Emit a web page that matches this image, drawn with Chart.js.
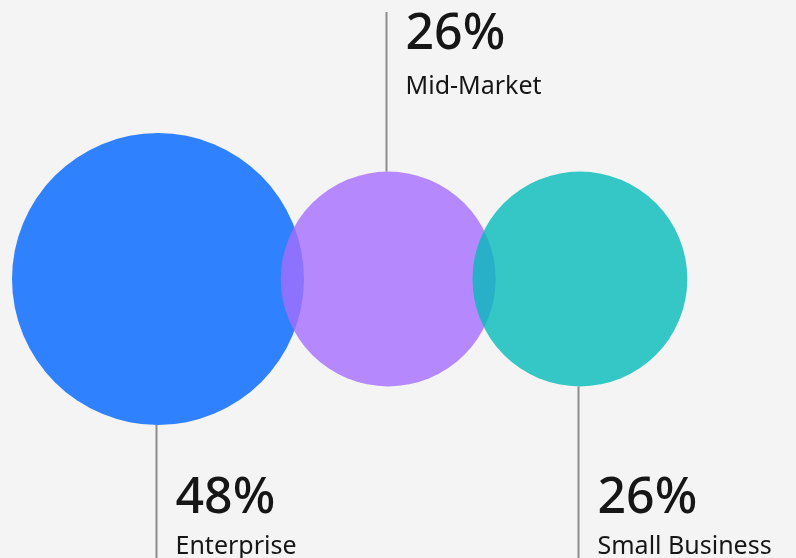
<!DOCTYPE html>
<html>
<head>
<meta charset="utf-8">
<script src="https://cdn.jsdelivr.net/npm/chart.js@4.4.0/dist/chart.umd.min.js"></script>
<style>
    html, body { margin: 0; padding: 0; background: #f4f4f4; }
    #wrap { width: 796px; height: 558px; }
</style>
</head>
<body>
<div id="wrap"><canvas id="chart" width="796" height="558"></canvas></div>
<script>
const segments = ['Enterprise', 'Mid-Market', 'Small Business'];
const shares = [48, 26, 26];

const colors = ['rgba(10, 106, 255, 0.84)', 'rgba(165, 110, 255, 0.8)', 'rgba(5, 186, 186, 0.8)'];
const overlap = 1.1;   // how far neighbouring circles run into each other (in sqrt-units)
const xMin = -0.57;
const xMax = 37.21;

// circle sizes are area proportional, centres are chained along one row
const sizes = shares.map(v => Math.sqrt(v));
const centres = [];
sizes.forEach((s, i) => {
    centres.push(i === 0 ? s : centres[i - 1] + sizes[i - 1] + s - overlap);
});

// chart area is the whole canvas (no padding, hidden axes, no auto padding)
const pxPerUnit = (chart) => chart.width / (xMax - xMin);

const calloutPlugin = {
    id: 'callouts',
    afterDatasetsDraw(chart) {
        const ctx = chart.ctx;
        const meta = chart.getDatasetMeta(0);
        meta.data.forEach((pt, i) => {
            const r = pt.options.radius;
            const up = i % 2 === 1;
            const lx = Math.round(pt.x) - 1.5;
            let y0, y1, bigY, nameY;
            if (up) {
                y0 = pt.y - r;
                y1 = 12;
                bigY = y1 + 37;
                nameY = y1 + 82;
            } else {
                // bottom callouts share one text row near the bottom edge
                y0 = pt.y + r;
                y1 = chart.height;
                bigY = y1 - 45;
                nameY = y1 - 4;
            }
            ctx.save();
            ctx.strokeStyle = '#8d8d8d';
            ctx.lineWidth = 2;
            ctx.beginPath();
            ctx.moveTo(lx, y0);
            ctx.lineTo(lx, y1);
            ctx.stroke();

            ctx.fillStyle = '#161616';
            ctx.textAlign = 'left';
            ctx.textBaseline = 'alphabetic';
            ctx.font = '500 50px "Noto Sans"';
            ctx.fillText(shares[i] + '%', lx + 19, bigY);
            ctx.font = '25px "Noto Sans"';
            ctx.fillText(segments[i], lx + 19, nameY);
            ctx.restore();
        });
    }
};

new Chart(document.getElementById('chart'), {
    type: 'bubble',
    data: {
        labels: segments,
        datasets: [{
            data: centres.map(c => ({ x: c, y: 0 })),
            backgroundColor: colors,
            borderWidth: 0,
            clip: false,
            radius: (ctx) => sizes[ctx.dataIndex] * pxPerUnit(ctx.chart)
        }]
    },
    options: {
        responsive: false,
        animation: false,
        layout: { padding: 0, autoPadding: false },
        events: [],
        plugins: {
            legend: { display: false },
            tooltip: { enabled: false }
        },
        scales: {
            x: { type: 'linear', display: false, min: xMin, max: xMax },
            y: { type: 'linear', display: false, min: -1, max: 1 }
        }
    },
    plugins: [calloutPlugin]
});
</script>
</body>
</html>
